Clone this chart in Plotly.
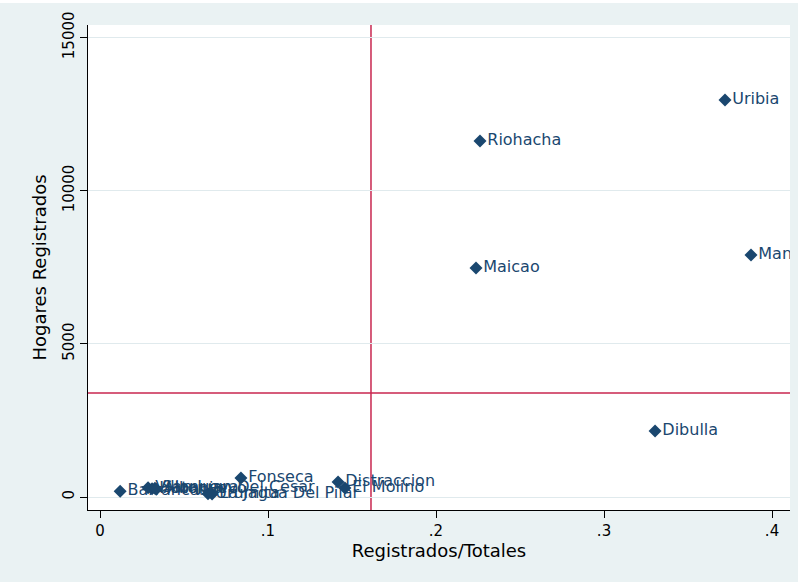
import plotly.graph_objects as go

# municipios de La Guajira
municipios = [
    "Barrancas", "Villanueva", "Hatonuevo", "San Juan Del Cesar", "Albania",
    "Urumita", "La Jagua Del Pilar", "Fonseca", "Distraccion", "El Molino",
    "Maicao", "Riohacha", "Dibulla", "Uribia", "Manaure",
]
registrados_totales = [
    0.012, 0.0286, 0.0310, 0.0327, 0.0335,
    0.0643, 0.0667, 0.0839, 0.1417, 0.1458,
    0.2238, 0.2262, 0.3304, 0.3720, 0.3875,
]
hogares_registrados = [
    190, 300, 270, 290, 250,
    110, 95, 620, 490, 294,
    7476, 11620, 2155, 12960, 7900,
]

# lineas de referencia (promedios)
ref_x = 0.1613
ref_y = 3395

navy = "#1a476f"
crimson = "#c8264f"
bg = "#eaf2f3"
grid = "#e0eaed"
font_family = "DejaVu Sans, Arial, sans-serif"

fig = go.Figure()

fig.add_trace(go.Scatter(
    x=registrados_totales,
    y=hogares_registrados,
    mode="markers+text",
    text=municipios,
    textposition="middle right",
    textfont=dict(family=font_family, size=16, color=navy),
    marker=dict(symbol="diamond", size=10, color=navy),
    cliponaxis=True,
    showlegend=False,
))

fig.add_shape(type="line", xref="x", yref="paper", x0=ref_x, x1=ref_x, y0=0, y1=1,
              line=dict(color=crimson, width=1.5), layer="below")
fig.add_shape(type="line", xref="paper", yref="y", x0=0, x1=1, y0=ref_y, y1=ref_y,
              line=dict(color=crimson, width=1.5), layer="below")

# franja blanca arriba
fig.add_shape(type="rect", xref="paper", yref="paper", x0=-0.2, x1=1.1, y0=1.0454, y1=1.06,
              fillcolor="white", line=dict(width=0), layer="below")

fig.update_layout(
    width=798, height=582,
    margin=dict(l=88, r=8, t=25, b=72, autoexpand=False),
    paper_bgcolor=bg,
    plot_bgcolor="white",
    font=dict(family=font_family, color="black"),
)

fig.update_xaxes(
    range=[-0.00714, 0.4107],
    tickvals=[0, 0.1, 0.2, 0.3, 0.4],
    ticktext=["0", ".1", ".2", ".3", ".4"],
    ticks="outside", ticklen=7, tickcolor="black",
    tickfont=dict(size=15),
    showline=True, linecolor="black", linewidth=1.2,
    showgrid=False, zeroline=False, automargin=False,
    title=dict(text="Registrados/Totales", font=dict(size=18), standoff=2),
)

fig.update_yaxes(
    range=[-424, 15410],
    tickvals=[0, 5000, 10000, 15000],
    ticktext=["0", "5000", "10000", "15000"],
    tickangle=-90,
    ticks="outside", ticklen=7, tickcolor="black",
    tickfont=dict(size=15),
    showline=True, linecolor="black", linewidth=1.2,
    showgrid=True, gridcolor=grid, gridwidth=1,
    zeroline=False, automargin=False,
    title=dict(text="Hogares Registrados", font=dict(size=18), standoff=8),
)

fig.write_html("out.html", config={"displayModeBar": False},
               post_script="document.body.style.margin='0';")
